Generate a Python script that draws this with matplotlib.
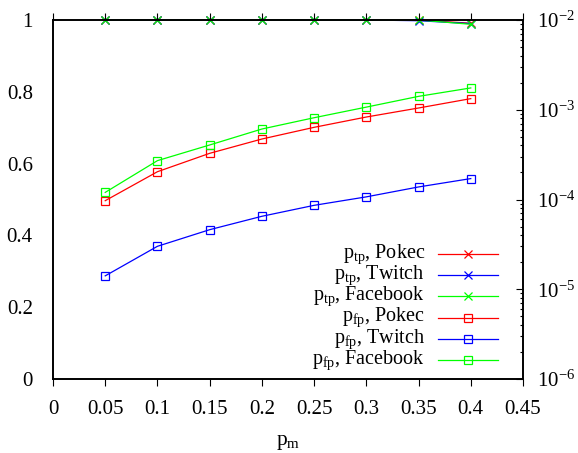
import matplotlib
matplotlib.use("Agg")
import matplotlib.pyplot as plt
from matplotlib.lines import Line2D
from matplotlib.ticker import LogLocator, LogFormatterMathtext, NullFormatter, FixedLocator, FixedFormatter

plt.rcParams['font.family'] = ['Liberation Serif', 'DejaVu Serif']
plt.rcParams['mathtext.fontset'] = 'custom'
plt.rcParams['mathtext.rm'] = 'Liberation Serif'
plt.rcParams['mathtext.it'] = 'Liberation Serif:italic'
plt.rcParams['mathtext.bf'] = 'Liberation Serif:bold'

# ---- data ----
pm = [0.05, 0.1, 0.15, 0.2, 0.25, 0.3, 0.35, 0.4]

ptp_pokec = [1.0, 1.0, 1.0, 1.0, 1.0, 1.0, 1.0, 0.991]
ptp_twitch = [1.0, 1.0, 1.0, 1.0, 1.0, 1.0, 0.998, 0.990]
ptp_facebook = [1.0, 1.0, 1.0, 1.0, 1.0, 1.0, 1.0, 0.988]

pfp_pokec = [9.7e-5, 2.04e-4, 3.27e-4, 4.72e-4, 6.37e-4, 8.30e-4, 1.046e-3, 1.33e-3]
pfp_twitch = [1.41e-5, 3.01e-5, 4.61e-5, 6.50e-5, 8.61e-5, 1.07e-4, 1.38e-4, 1.71e-4]
pfp_facebook = [1.20e-4, 2.71e-4, 4.05e-4, 6.10e-4, 8.15e-4, 1.07e-3, 1.41e-3, 1.75e-3]

xticks = [0, 0.05, 0.1, 0.15, 0.2, 0.25, 0.3, 0.35, 0.4, 0.45]
xticklabels = ['0', '0.05', '0.1', '0.15', '0.2', '0.25', '0.3', '0.35', '0.4', '0.45']
yticks = [0, 0.2, 0.4, 0.6, 0.8, 1.0]
yticklabels = ['0', '0.2', '0.4', '0.6', '0.8', '1']

labels = [r'$\mathrm{p}_{\mathrm{tp}}$, Pokec', r'$\mathrm{p}_{\mathrm{tp}}$, Twitch',
          r'$\mathrm{p}_{\mathrm{tp}}$, Facebook', r'$\mathrm{p}_{\mathrm{fp}}$, Pokec',
          r'$\mathrm{p}_{\mathrm{fp}}$, Twitch', r'$\mathrm{p}_{\mathrm{fp}}$, Facebook']
colors = ['#ff0000', '#0000ff', '#00ff00']

FS = 15
LFS = 14.5

fig = plt.figure(figsize=(5.78, 4.53), dpi=100)
ax = fig.add_axes([53/578, 1-379/453, 470/578, 359/453])
ax2 = ax.twinx()

lw = 0.9
ms = 6
mew = 0.9
for y, c in zip([ptp_pokec, ptp_twitch, ptp_facebook], colors):
    ax.plot(pm, y, color=c, lw=lw, marker='x', ms=ms, mew=mew, clip_on=False)
for y, c in zip([pfp_pokec, pfp_twitch, pfp_facebook], colors):
    ax2.plot(pm, y, color=c, lw=lw, marker='s', ms=ms, mew=mew, mfc='none', clip_on=False)

ax.set_xlim(0, 0.45)
ax.set_ylim(0, 1)
ax2.set_yscale('log')
ax2.set_ylim(1e-6, 1e-2)

ax.xaxis.set_major_locator(FixedLocator(xticks))
ax.xaxis.set_major_formatter(FixedFormatter(xticklabels))
ax.yaxis.set_major_locator(FixedLocator(yticks))
ax.yaxis.set_major_formatter(FixedFormatter(yticklabels))

ax.tick_params(axis='x', direction='out', top=True, bottom=True, length=5, width=0.8,
               labelsize=FS, pad=10)
ax.tick_params(axis='y', left=False, right=False, labelsize=FS, pad=11)

ax2.yaxis.set_major_locator(LogLocator(base=10, numticks=10))
ax2.yaxis.set_major_formatter(LogFormatterMathtext())
ax2.yaxis.set_minor_locator(LogLocator(base=10, subs=range(2, 10), numticks=20))
ax2.yaxis.set_minor_formatter(NullFormatter())
ax2.tick_params(axis='y', which='major', direction='in', length=5, width=0.8, labelsize=FS, pad=10)
ax2.tick_params(axis='y', which='minor', direction='in', length=2.5, width=0.8)

for a in (ax, ax2):
    for s in a.spines.values():
        s.set_linewidth(1.2)

ax.set_xlabel(r'$\mathrm{p}_{\mathrm{m}}$', fontsize=15.5, labelpad=10)

# legend (gnuplot style: right-aligned text, sample on right)
rows = [0.348, 0.289, 0.230, 0.171, 0.111, 0.053]
markers = ['x', 'x', 'x', 's', 's', 's']
lcolors = colors + colors
for lab, yy, mk, c in zip(labels, rows, markers, lcolors):
    ax2.text(0.7915, yy, lab, transform=ax2.transAxes, ha='right', va='center', fontsize=LFS)
    ax2.add_line(Line2D([0.819, 0.947], [yy, yy], transform=ax2.transAxes, color=c, lw=lw,
                        clip_on=False))
    ax2.add_line(Line2D([0.883], [yy], transform=ax2.transAxes, color=c, marker=mk, ms=ms,
                        mew=mew, mfc='none', ls='none', clip_on=False))

fig.savefig('out.png', dpi=100)
